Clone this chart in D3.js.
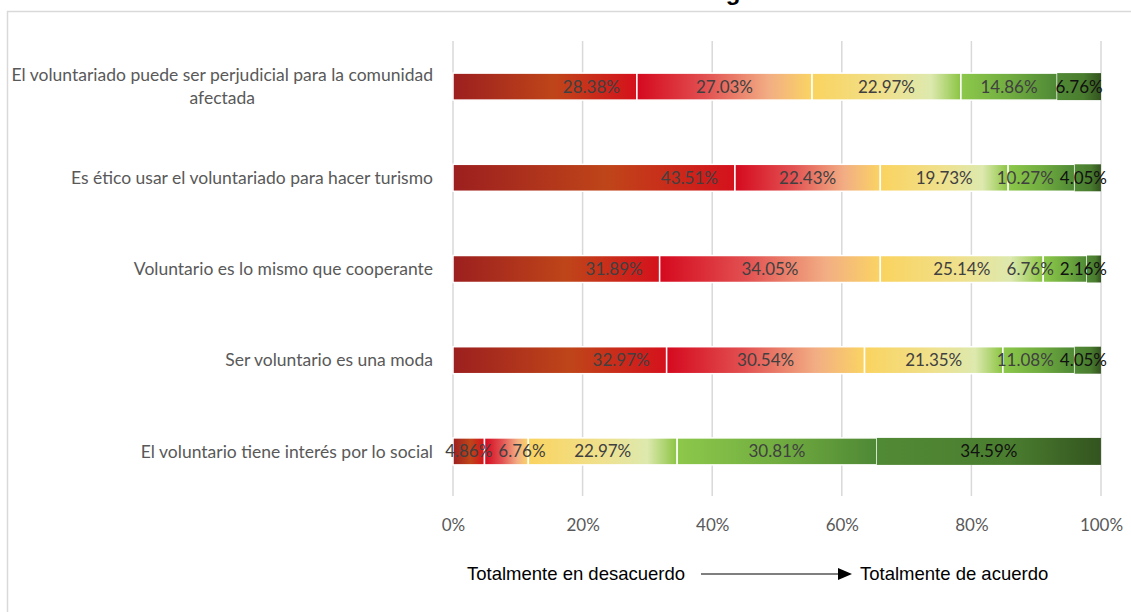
<!DOCTYPE html>
<html>
<head>
<meta charset="utf-8">
<script src="https://cdn.jsdelivr.net/npm/d3@7"></script>
<style>
  body { margin: 0; background: #fff; }
  svg { display: block; }
</style>
</head>
<body>
<div class="chart"></div>
<script>
var categories = [
  "El voluntariado puede ser perjudicial para la comunidad afectada",
  "Es ético usar el voluntariado para hacer turismo",
  "Voluntario es lo mismo que cooperante",
  "Ser voluntario es una moda",
  "El voluntario tiene interés por lo social"
];
// 1 = totalmente en desacuerdo ... 5 = totalmente de acuerdo
var level1 = [28.38, 43.51, 31.89, 32.97, 4.86];
var level2 = [27.03, 22.43, 34.05, 30.54, 6.76];
var level3 = [22.97, 19.73, 25.14, 21.35, 22.97];
var level4 = [14.86, 10.27, 6.76, 11.08, 30.81];
var level5 = [6.76, 4.05, 2.16, 4.05, 34.59];
var tickValues = [0, 20, 40, 60, 80, 100];

var width = 1131, height = 612;
var series = [level1, level2, level3, level4, level5];

// gradient stops per level
var gradients = [
  [["0%", "#9c1f1f"], ["55%", "#bf4519"], ["100%", "#d5111c"]],
  [["0%", "#d5091f"], ["40%", "#e25252"], ["75%", "#f2ad84"], ["100%", "#fad463"]],
  [["0%", "#fad35f"], ["50%", "#efe18e"], ["80%", "#dde9ae"], ["100%", "#8bc443"]],
  [["0%", "#8dc84b"], ["50%", "#71ad40"], ["100%", "#4f8835"]],
  [["0%", "#518a35"], ["60%", "#4a7d2f"], ["100%", "#33541f"]]
];

var svg = d3.select("div.chart").append("svg")
  .attr("width", width)
  .attr("height", height);

var defs = svg.append("defs");
gradients.forEach(function(stops, i) {
  var g = defs.append("linearGradient").attr("id", "grad" + i)
    .attr("x1", "0%").attr("x2", "100%").attr("y1", "0%").attr("y2", "0%");
  stops.forEach(function(s) {
    g.append("stop").attr("offset", s[0]).attr("stop-color", s[1]);
  });
});

// chart area border (cut by the page edge)
svg.append("rect")
  .attr("x", 7.5).attr("y", 11.5)
  .attr("width", width).attr("height", height)
  .attr("fill", "none").attr("stroke", "#d9d9d9").attr("stroke-width", 1.5);

// title, mostly above the visible area
svg.append("text")
  .attr("x", 733).attr("y", 0)
  .attr("text-anchor", "middle")
  .style("font-family", "'Liberation Sans', Arial, sans-serif")
  .style("font-weight", "bold")
  .style("font-size", "24px")
  .text("g");

var x = d3.scaleLinear().domain([0, 100]).range([453, 1101]);
var y = d3.scaleBand().domain(categories).range([41, 497])
  .paddingInner(0.704).paddingOuter(0.352);

// gridlines
svg.append("g")
  .selectAll("line")
  .data(tickValues)
  .enter().append("line")
  .attr("x1", d => x(d)).attr("x2", d => x(d))
  .attr("y1", 41).attr("y2", 496)
  .attr("stroke", "#d9d9d9").attr("stroke-width", 1.5);

// stacked rows
var rows = categories.map(function(c, r) {
  var acc = 0;
  return series.map(function(s, k) {
    var seg = {cat: c, level: k, value: s[r], x0: acc, x1: acc + s[r]};
    acc += s[r];
    return seg;
  });
});
var segs = d3.merge(rows);

svg.append("g")
  .selectAll("rect")
  .data(segs)
  .enter().append("rect")
  .attr("x", d => x(d.x0))
  .attr("y", d => y(d.cat))
  .attr("width", d => x(d.x1) - x(d.x0))
  .attr("height", y.bandwidth())
  .attr("fill", d => "url(#grad" + d.level + ")")
  .attr("stroke", d => d.level < 4 ? "#fff" : "none")
  .attr("stroke-width", 1.5);

// data labels
var labelG = svg.append("g");
rows.forEach(function(row) {
  var items = row.map(function(d) {
    var t = labelG.append("text")
      .attr("y", y(d.cat) + y.bandwidth() / 2)
      .attr("dy", "0.35em")
      .style("font-family", "Lato, 'Open Sans', sans-serif")
      .style("font-size", "17px")
      .style("fill", d.level == 4 ? "#111" : "#404040")
      .text(d.value.toFixed(2) + "%");
    var w = t.node().getComputedTextLength();
    var segW = x(d.x1) - x(d.x0);
    var cx;
    if (d.level == 0 && segW > w + 40) cx = x(d.x1) - 17 - w / 2;
    else cx = (x(d.x0) + x(d.x1)) / 2;
    return {t: t, w: w, left: cx - w / 2};
  });
  // keep labels inside the plot on the right
  var limit = x(100) + 4;
  for (var i = items.length - 1; i >= 0; i--) {
    if (items[i].left + items[i].w > limit) items[i].left = limit - items[i].w;
    limit = items[i].left - 4;
    if (i > 0 && items[i].left > items[i - 1].left + items[i - 1].w + 4) break;
  }
  // no overlaps going left to right
  for (var j = 1; j < items.length; j++) {
    var minLeft = items[j - 1].left + items[j - 1].w + 6;
    if (items[j].left < minLeft) items[j].left = minLeft;
  }
  items.forEach(function(it) { it.t.attr("x", it.left); });
});

// category labels
var catG = svg.append("g");
categories.forEach(function(c) {
  var cy = y(c) + y.bandwidth() / 2;
  var t = catG.append("text")
    .style("font-family", "Lato, 'Open Sans', sans-serif")
    .style("font-size", "17.5px")
    .style("fill", "#595959")
    .attr("text-anchor", "end");
  var words = c.split(" "), lines = [], line = [];
  words.forEach(function(w) {
    t.text(line.concat(w).join(" "));
    if (line.length && t.node().getComputedTextLength() > 428) {
      lines.push(line.join(" "));
      line = [w];
    } else line.push(w);
  });
  lines.push(line.join(" "));
  t.text(null);
  var lh = 23;
  var widest = 0;
  lines.forEach(function(l, i) {
    var ts = t.append("tspan").text(l);
    widest = Math.max(widest, ts.node().getComputedTextLength());
  });
  var ax = lines.length > 1 ? 433 - widest / 2 : 433;
  t.attr("text-anchor", lines.length > 1 ? "middle" : "end");
  t.selectAll("tspan")
    .attr("x", ax)
    .attr("y", (d, i) => cy + (i - (lines.length - 1) / 2) * lh)
    .attr("dy", "0.35em");
});

// x axis
var axis = svg.append("g")
  .attr("transform", "translate(0,516)")
  .call(d3.axisBottom(x).tickValues(tickValues).tickSize(0).tickFormat(d => d + "%"));
axis.select(".domain").remove();
axis.selectAll("text")
  .style("font-family", "Lato, 'Open Sans', sans-serif")
  .style("font-size", "17px")
  .style("fill", "#595959");

// direction note under the axis
var note = svg.append("g")
  .style("font-family", "'Liberation Sans', Arial, sans-serif")
  .style("font-size", "18.5px")
  .style("fill", "#000");
note.append("text").attr("x", 467).attr("y", 574).attr("dy", "0.35em")
  .text("Totalmente en desacuerdo");
note.append("line")
  .attr("x1", 701).attr("x2", 840).attr("y1", 574).attr("y2", 574)
  .attr("stroke", "#000").attr("stroke-width", 1.2);
note.append("path")
  .attr("d", "M838,568 L852,574 L838,580 Z")
  .attr("fill", "#000");
note.append("text").attr("x", 860).attr("y", 574).attr("dy", "0.35em")
  .text("Totalmente de acuerdo");
</script>
</body>
</html>
